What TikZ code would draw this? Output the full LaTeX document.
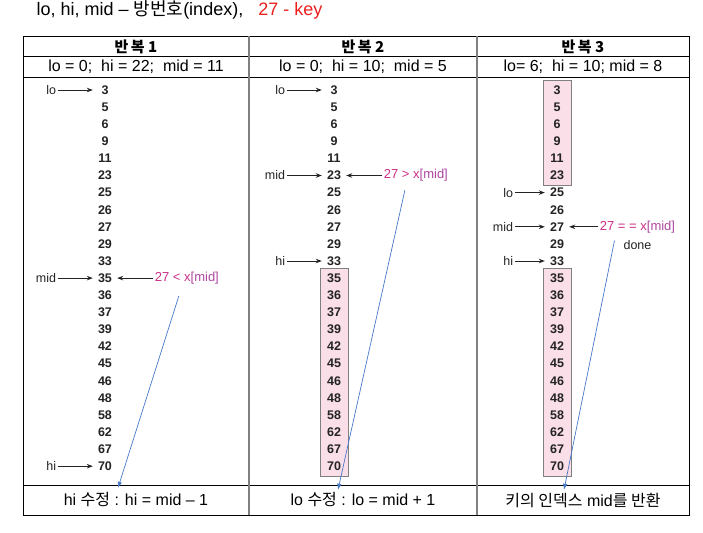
\documentclass[tikz,border=0pt]{standalone}
\usepackage{fontspec}
\setmainfont{Liberation Sans}
\newfontfamily\kr{Noto Sans CJK KR}
\usetikzlibrary{positioning, arrows.meta, fit, backgrounds}

\definecolor{keyred}{RGB}{235,30,30}
\definecolor{cmpmag}{RGB}{205,45,135}
\definecolor{cmpvio}{RGB}{175,70,160}
\definecolor{linkblue}{RGB}{70,120,200}
\definecolor{boxpink}{RGB}{250,222,232}
\definecolor{numgray}{RGB}{35,35,35}

\tikzset{
  num/.style={font=\fontsize{12.5}{12.5}\selectfont\bfseries, text=numgray, inner sep=0pt, minimum width=24pt, minimum height=17.1pt},
  ptr/.style={font=\fontsize{12.5}{12.5}\selectfont, text=numgray, inner sep=1.5pt},
  cmp/.style={font=\fontsize{13}{13}\selectfont, inner sep=1.5pt},
  head/.style={font=\kr\bfseries\fontsize{15}{15}\selectfont},
  info/.style={font=\fontsize{16}{16}\selectfont, inner sep=0pt},
  cell/.style={info, minimum width=226pt, minimum height=30pt},
  ptrarrow/.style={-{Stealth[length=6pt, width=4.5pt]}, line width=0.9pt, numgray},
  link/.style={-{Latex[length=6pt, width=4.5pt]}, linkblue, line width=0.7pt},
  cutbox/.style={draw=gray, fill=boxpink, inner xsep=1.5pt, inner ysep=1pt}
}

\begin{document}
\begin{tikzpicture}[x=1pt, y=-1pt]
\useasboundingbox (0,0) rectangle (703,532);

\node[anchor=west, font=\fontsize{18}{18}\selectfont] (title) at (33,10)
  {lo,\ hi,\ mid -- {\kr 방번호}(index),\ \ \ \textcolor{keyred}{27 - key}};

% table
\draw (23,36) rectangle (689,515);
\draw (23,56) -- (689,56) (23,77) -- (689,77) (23,485) -- (689,485);
\draw[gray, line width=1.2pt] (249,36) -- (249,515) (477,36) -- (477,515);

\node[head] (h1) at (136,46.5) {반\,복 1};
\node[head] (h2) at (363,46.5) {반\,복 2};
\node[head] (h3) at (583,46.5) {반\,복 3};

\node[info] (s1) at (136,67) {lo = 0;\ \ hi = 22;\ \ mid = 11};
\node[info] (s2) at (363,67) {lo = 0;\ \ hi = 10;\ \ mid = 5};
\node[info] (s3) at (583,67) {lo= 6;\ \ hi = 10; mid = 8};

\node[cell] (r1) at (136,500) {hi {\kr 수정} : hi = mid -- 1};
\node[cell] (r2) at (363,500) {lo {\kr 수정} : lo = mid + 1};
\node[cell] (r3) at (583,500) {{\kr 키의 인덱스} mid{\kr 를 반환}};

% array in each pass
\foreach \v [count=\i from 0] in {3,5,6,9,11,23,25,26,27,29,33,35,36,37,39,42,45,46,48,58,62,67,70}{
  \node[num] (c1-\i) at (105,90+17.1*\i) {\v};
  \node[num] (c2-\i) at (334,90+17.1*\i) {\v};
  \node[num] (c3-\i) at (557,90+17.1*\i) {\v};
}

\begin{scope}[on background layer]
  \node[cutbox, fit=(c2-11)(c2-22)] (cut2) {};
  \node[cutbox, fit=(c3-0)(c3-5)] (cut3a) {};
  \node[cutbox, fit=(c3-11)(c3-22)] (cut3b) {};
\end{scope}

% pass 1
\node[ptr, left=35pt of c1-0] (lo1) {lo};
\node[ptr, left=35pt of c1-11] (mid1) {mid};
\node[ptr, left=35pt of c1-22] (hi1) {hi};
\node[cmp, right=36pt of c1-11] (k1) {\textcolor{cmpmag}{27 < x}\textcolor{cmpvio}{[mid]}};

% pass 2
\node[ptr, left=35pt of c2-0] (lo2) {lo};
\node[ptr, left=35pt of c2-5] (mid2) {mid};
\node[ptr, left=35pt of c2-10] (hi2) {hi};
\node[cmp, right=36pt of c2-5] (k2) {\textcolor{cmpmag}{27 > x}\textcolor{cmpvio}{[mid]}};

% pass 3
\node[ptr, left=30pt of c3-6] (lo3) {lo};
\node[ptr, left=30pt of c3-8] (mid3) {mid};
\node[ptr, left=30pt of c3-10] (hi3) {hi};
\node[cmp, right=29pt of c3-8] (k3) {\textcolor{cmpmag}{27 = = x}\textcolor{cmpvio}{[mid]}};
\node[ptr, below=4pt of k3] (done) {done};

\draw[ptrarrow] (lo1) -- (c1-0);
\draw[ptrarrow] (mid1) -- (c1-11);
\draw[ptrarrow] (hi1) -- (c1-22);
\draw[ptrarrow] (k1) -- (c1-11);
\draw[ptrarrow] (lo2) -- (c2-0);
\draw[ptrarrow] (mid2) -- (c2-5);
\draw[ptrarrow] (hi2) -- (c2-10);
\draw[ptrarrow] (k2) -- (c2-5);
\draw[ptrarrow] (lo3) -- (c3-6);
\draw[ptrarrow] (mid3) -- (c3-8);
\draw[ptrarrow] (hi3) -- (c3-10);
\draw[ptrarrow] (k3) -- (c3-8);

\draw[link] ([xshift=-8pt, yshift=-10pt]k1.south) -- ([xshift=-18pt, yshift=-3pt]r1.north);
\draw[link] ([xshift=-11pt, yshift=-7pt]k2.south) -- ([xshift=-25pt, yshift=-5pt]r2.north);
\draw[link] ([xshift=-23pt, yshift=-6pt]k3.south) -- ([xshift=-19pt, yshift=-5pt]r3.north);
\end{tikzpicture}
\end{document}
